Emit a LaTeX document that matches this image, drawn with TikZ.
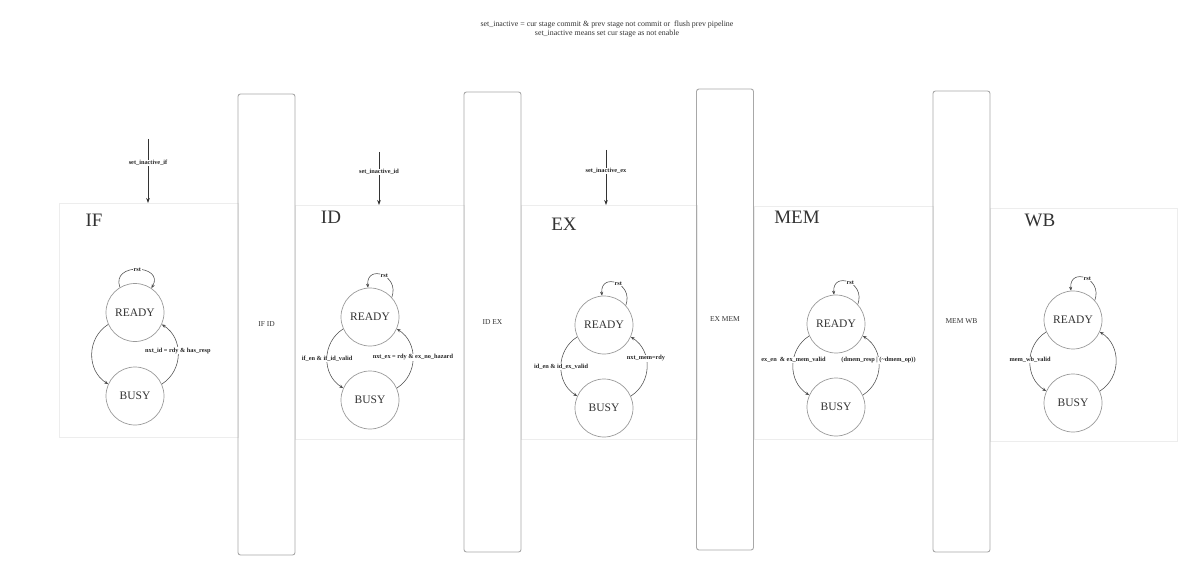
\documentclass[tikz,border=0pt]{standalone}
\usepackage{fontspec}
\setmainfont{Liberation Serif}
\usetikzlibrary{arrows.meta}
\definecolor{stageline}{HTML}{EDEDED}
\definecolor{regline}{HTML}{A8A8A8}
\definecolor{circline}{HTML}{9A9A9A}
\definecolor{txt}{HTML}{333333}
\tikzset{
  stagebox/.style={draw=stageline, line width=0.8pt},
  regbox/.style={draw=regline, line width=0.9pt, rounded corners=2.5pt, text=txt, font=\fontsize{7.5}{8}\selectfont},
  state/.style={circle, draw=circline, line width=0.7pt, minimum size=58pt, inner sep=0pt, text=txt, font=\fontsize{11.5}{12}\selectfont},
  stagetitle/.style={text=txt, font=\fontsize{19}{20}\selectfont},
  edge/.style={draw=black!70, line width=0.55pt, -{Stealth[length=4pt,width=3.2pt]}},
  leftarc/.style={edge, out=212, in=148, looseness=1.1},
  rightarc/.style={edge, out=32, in=328, looseness=1.1},
  elabel/.style={fill=white, inner sep=0.6pt, font=\bfseries\fontsize{6.3}{7}\selectfont, text=black!85},
  inact/.style={draw=black!80, line width=0.7pt, -{Stealth[length=5pt,width=3.6pt]}},
}
\begin{document}
\begin{tikzpicture}[x=1pt, y=-1pt]
\useasboundingbox[fill=white] (0,0) rectangle (1180,577);

% title
\node[text=txt, font=\fontsize{7.9}{9}\selectfont, align=center] (title) at (607,29)
  {set\_inactive = cur stage commit \& prev stage not commit or\ \ flush prev pipeline\\ set\_inactive means set cur stage as not enable};

% stage boxes
\draw[stagebox] (59,203) rectangle (238,437);
\draw[stagebox] (295,205) rectangle (464,439);
\draw[stagebox] (521,205) rectangle (697,439);
\draw[stagebox] (754,206) rectangle (933,439);
\draw[stagebox] (990,208) rectangle (1177,441);

% pipeline registers
\node[regbox, minimum width=57pt, minimum height=461pt] (ifid) at (266.5,324.5) {IF ID};
\node[regbox, minimum width=57pt, minimum height=460pt] (idex) at (492.5,322) {ID EX};
\node[regbox, minimum width=57pt, minimum height=461pt] (exmem) at (725,319.5) {EX MEM};
\node[regbox, minimum width=57pt, minimum height=461pt] (memwb) at (961.5,321.5) {MEM WB};

% stage titles
\node[stagetitle] (tif) at (94,220) {IF};
\node[stagetitle] (tid) at (331,217) {ID};
\node[stagetitle] (tex) at (564,224) {EX};
\node[stagetitle] (tmem) at (797,217) {MEM};
\node[stagetitle] (twb) at (1040,220) {WB};

% set_inactive arrows
\coordinate (sif0) at (148,139); \coordinate (sif1) at (148,203);
\coordinate (sid0) at (379,152); \coordinate (sid1) at (379,205);
\coordinate (sex0) at (606,150); \coordinate (sex1) at (606,205);
\draw[inact] (sif0) -- (sif1);
\draw[inact] (sid0) -- (sid1);
\draw[inact] (sex0) -- (sex1);
\node[elabel] (lif) at (148,163) {set\_inactive\_if};
\node[elabel] (lid) at (379,172) {set\_inactive\_id};
\node[elabel] (lex) at (606,171) {set\_inactive\_ex};

% IF
\node[state] (r1) at (135,312.5) {READY};
\node[state] (b1) at (135,396) {BUSY};
\draw[edge] (r1.121) to[out=110, in=60, looseness=2.2] node[elabel, pos=0.5] {rst} (r1.56);
\draw[leftarc] (r1.204) to (b1.156);
\draw[rightarc] (b1.24) to node[elabel, pos=0.55] {nxt\_id = rdy \& has\_resp} (r1.336);

% ID
\node[state] (r2) at (370,317) {READY};
\node[state] (b2) at (370,400) {BUSY};
\draw[edge] (r2.42) to[out=70, in=95, looseness=2.4] node[elabel, pos=0.45] {rst} (r2.94);
\draw[leftarc] (r2.204) to node[elabel, pos=0.5] {if\_en \& if\_id\_valid} (b2.156);
\draw[rightarc] (b2.24) to node[elabel, pos=0.52] {nxt\_ex = rdy \& ex\_no\_hazard} (r2.336);

% EX
\node[state] (r3) at (604,325) {READY};
\node[state] (b3) at (604,408) {BUSY};
\draw[edge] (r3.42) to[out=70, in=95, looseness=2.4] node[elabel, pos=0.45] {rst} (r3.94);
\draw[leftarc] (r3.204) to node[elabel, pos=0.5] {id\_en \& id\_ex\_valid} (b3.156);
\draw[rightarc] (b3.24) to node[elabel, pos=0.62] {nxt\_mem=rdy} (r3.336);

% MEM
\node[state] (r4) at (836,324) {READY};
\node[state] (b4) at (836,407) {BUSY};
\draw[edge] (r4.42) to[out=70, in=95, looseness=2.4] node[elabel, pos=0.45] {rst} (r4.94);
\draw[leftarc] (r4.204) to node[elabel, pos=0.42] {ex\_en\ \ \& ex\_mem\_valid} (b4.156);
\draw[rightarc] (b4.24) to node[elabel, pos=0.58] {(dmem\_resp | (\textasciitilde dmem\_op))} (r4.336);

% WB
\node[state] (r5) at (1073,320) {READY};
\node[state] (b5) at (1073,403) {BUSY};
\draw[edge] (r5.42) to[out=70, in=95, looseness=2.4] node[elabel, pos=0.45] {rst} (r5.94);
\draw[leftarc] (r5.204) to node[elabel, pos=0.48] {mem\_wb\_valid} (b5.156);
\draw[rightarc] (b5.24) to (r5.336);
\end{tikzpicture}
\end{document}
